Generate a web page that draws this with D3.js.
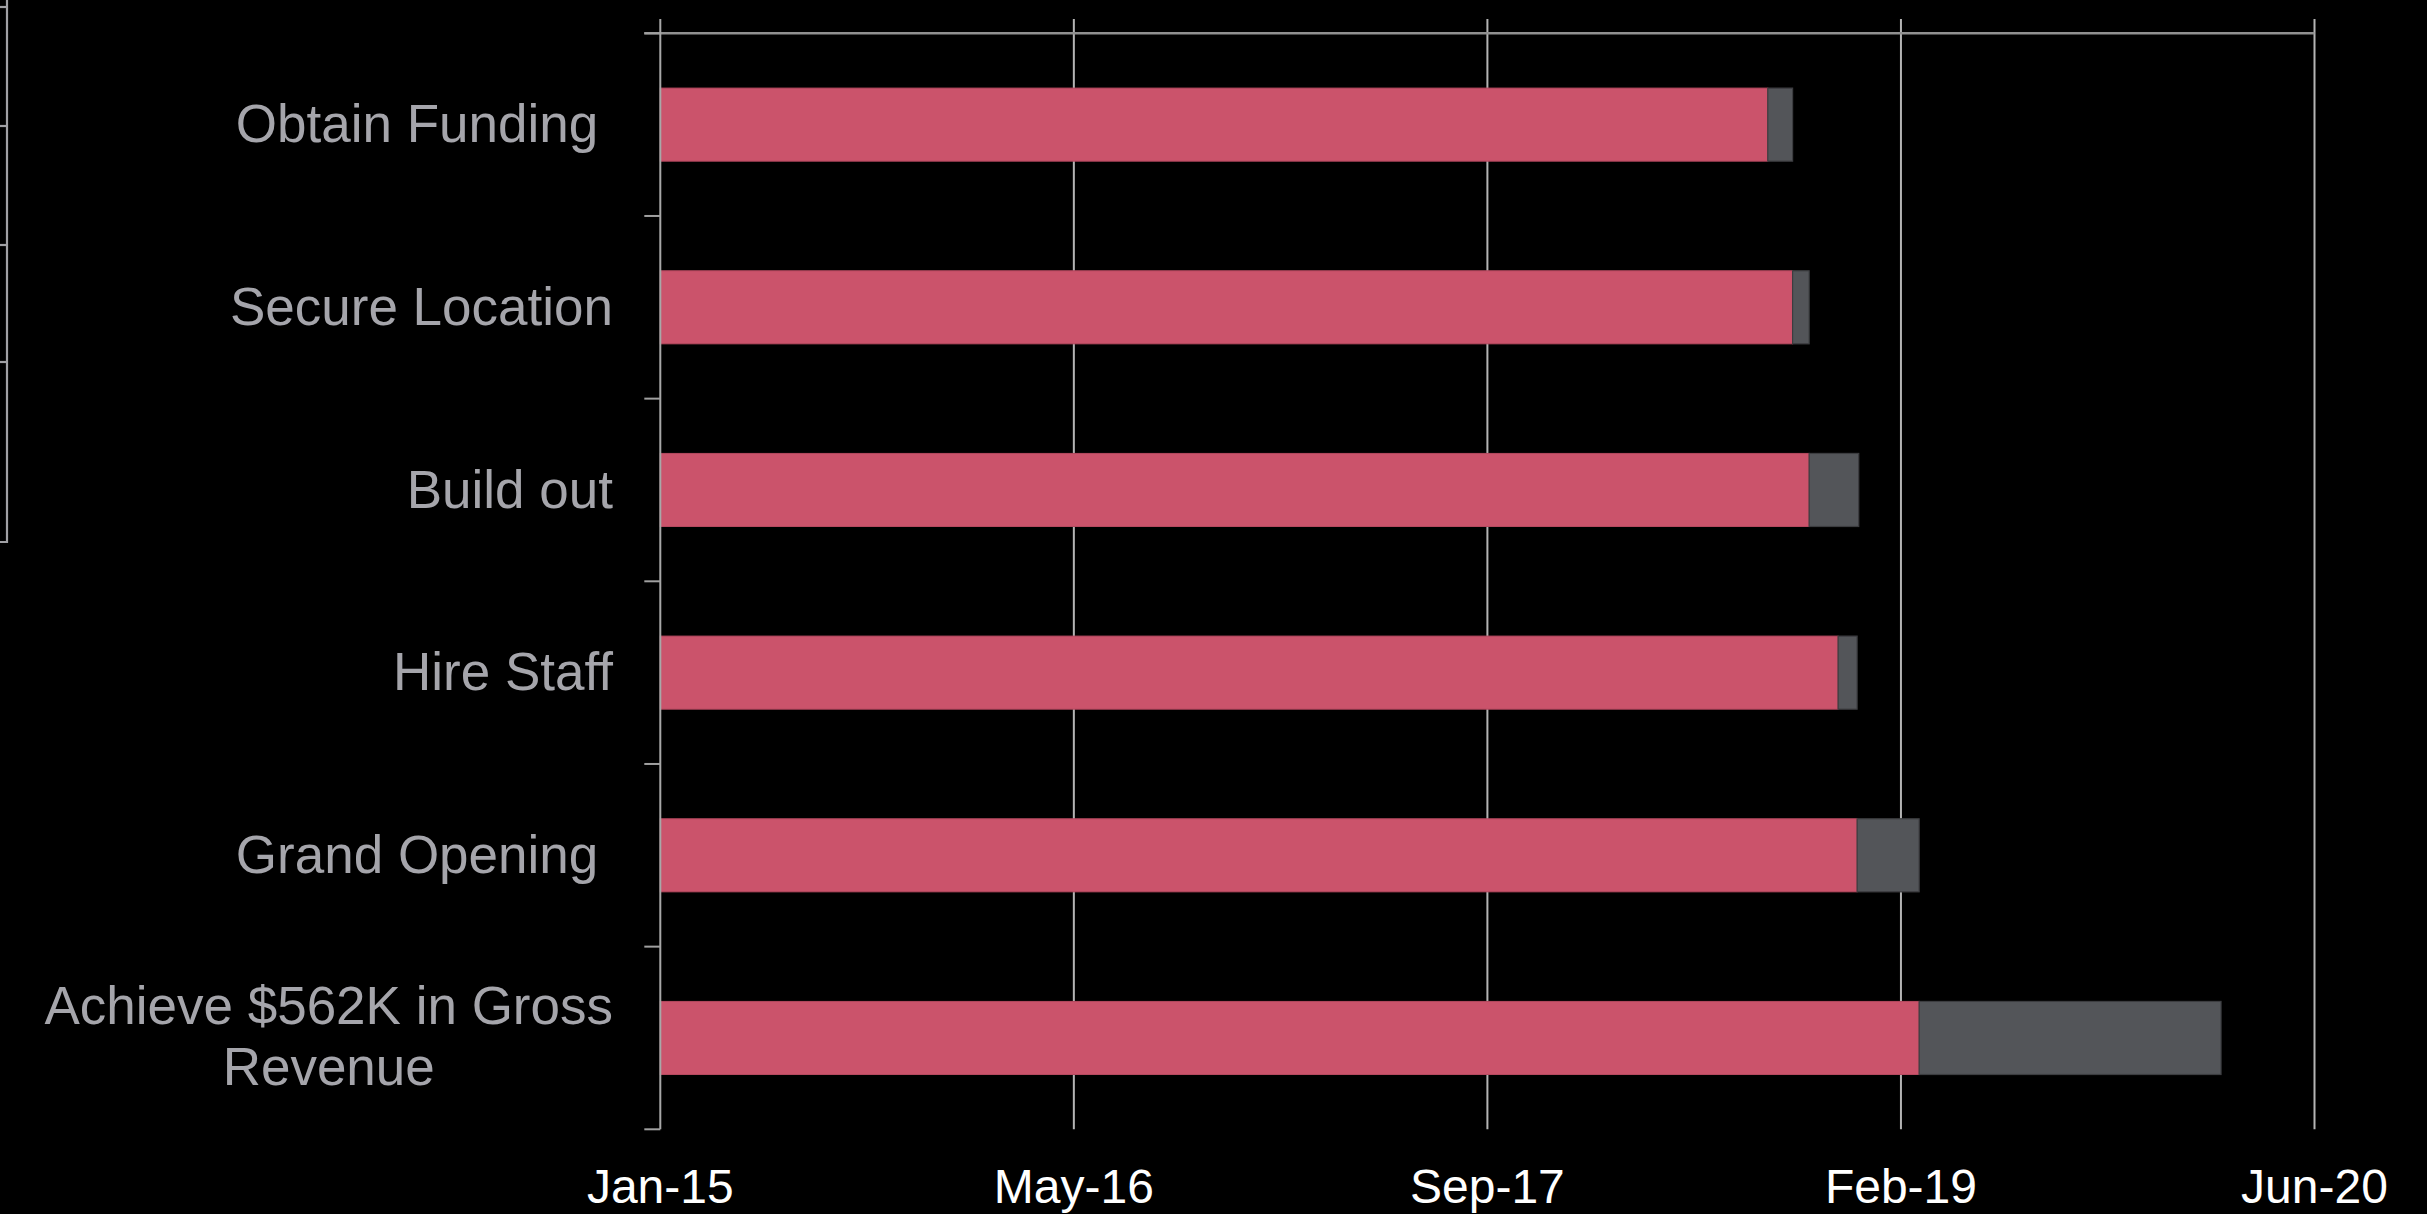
<!DOCTYPE html>
<html>
<head>
<meta charset="utf-8">
<script src="https://cdn.jsdelivr.net/npm/d3@7/dist/d3.min.js"></script>
<style>
  html, body { margin: 0; padding: 0; background: #000; }
  svg { display: block; }
  text { font-family: Arial, "Liberation Sans", sans-serif; }
</style>
</head>
<body>
<svg id="chart" width="2427" height="1214"></svg>
<script>
// ---- data ----
const categories = [
  "Obtain Funding ",
  "Secure Location",
  "Build out",
  "Hire Staff",
  "Grand Opening ",
  "Achieve $562K in Gross\nRevenue"
];
// start dates as spreadsheet serial days (pink segment runs from axis minimum)
const startDates = [43344, 43374, 43394, 43429, 43452, 43527];
// task durations in days (gray segment)
const durations = [30, 20, 60, 23, 75, 365];
const tickValues = [42005, 42505, 43005, 43505, 44005];
const tickLabels = ["Jan-15", "May-16", "Sep-17", "Feb-19", "Jun-20"];

// ---- layout ----
const svg = d3.select("#chart");
const W = 2427, H = 1214;
svg.append("rect").attr("width", W).attr("height", H).attr("fill", "#000");

const plotLeft = 660.3, plotRight = 2314.5, plotTop = 33.3, plotBottom = 1129.3;

const x = d3.scaleLinear().domain([tickValues[0], tickValues[tickValues.length - 1]])
  .range([plotLeft, plotRight]);
const y = d3.scaleBand().domain(categories).range([plotTop, plotBottom])
  .paddingInner(0.6).paddingOuter(0.3);

const rows = categories.map((c, i) => ({ cat: c, start: startDates[i], dur: durations[i] }));

// decorative fragment of a neighbouring chart at the far left
const frag = svg.append("g").attr("stroke", "#A0A0A4").attr("stroke-width", 2.2).attr("fill", "none");
frag.append("path").attr("d", "M7,0 V542 H0");
[7, 126, 245, 362].forEach(t => frag.append("line").attr("x1", 0).attr("x2", 7).attr("y1", t).attr("y2", t));

// vertical gridlines (with tick marks extending above the top axis line)
const grid = svg.append("g");
grid.selectAll("line").data(tickValues.slice(1)).join("line")
  .attr("x1", d => x(d)).attr("x2", d => x(d))
  .attr("y1", 19).attr("y2", plotBottom)
  .attr("stroke", "#B4B4B4").attr("stroke-width", 2);

// bars
const barG = svg.append("g");
barG.selectAll("rect.start").data(rows).join("rect").attr("class", "start")
  .attr("x", x(tickValues[0]))
  .attr("y", d => y(d.cat))
  .attr("width", d => x(d.start) - x(tickValues[0]))
  .attr("height", y.bandwidth())
  .attr("fill", "#CB536B")
  .attr("stroke", "#B5495F").attr("stroke-width", 1);
barG.selectAll("rect.dur").data(rows).join("rect").attr("class", "dur")
  .attr("x", d => x(d.start))
  .attr("y", d => y(d.cat))
  .attr("width", d => x(d.start + d.dur) - x(d.start))
  .attr("height", y.bandwidth())
  .attr("fill", "#535559")
  .attr("stroke", "#3C3D40").attr("stroke-width", 1.2);

// top horizontal axis line
svg.append("line")
  .attr("x1", plotLeft - 16).attr("x2", plotRight)
  .attr("y1", plotTop).attr("y2", plotTop)
  .attr("stroke", "#909090").attr("stroke-width", 2.4);
// vertical category axis line
svg.append("line")
  .attr("x1", plotLeft).attr("x2", plotLeft).attr("y1", 19).attr("y2", plotBottom)
  .attr("stroke", "#A8A8A8").attr("stroke-width", 2);

// category axis ticks at band boundaries
const step = y.step();
const bounds = d3.range(categories.length + 1).map(i => plotTop + i * step);
svg.append("g").selectAll("line").data(bounds).join("line")
  .attr("x1", plotLeft - 16).attr("x2", plotLeft)
  .attr("y1", d => d).attr("y2", d => d)
  .attr("stroke", "#A0A0A0").attr("stroke-width", 2);

// x tick labels
svg.append("g").selectAll("text").data(tickValues).join("text")
  .attr("x", d => x(d)).attr("y", 1202.7)
  .attr("text-anchor", "middle")
  .attr("font-size", 48)
  .attr("fill", "#FFFFFF")
  .text((d, i) => tickLabels[i]);

// category labels
const labelRight = 613;
const labG = svg.append("g");
rows.forEach(r => {
  const lines = r.cat.split("\n");
  const cy = y(r.cat) + y.bandwidth() / 2;
  const t = labG.append("text")
    .attr("font-size", 53)
    .attr("fill", "#A5A5AB")
    .attr("xml:space", "preserve")
    .style("white-space", "pre");
  if (lines.length === 1) {
    t.attr("x", labelRight).attr("y", cy + 17.7).attr("text-anchor", "end").text(lines[0]);
  } else {
    t.attr("text-anchor", "middle");
    const spans = lines.map((ln, k) => t.append("tspan").text(ln));
    let maxW = 0;
    spans.forEach(s => { maxW = Math.max(maxW, s.node().getComputedTextLength()); });
    const cx = labelRight - maxW / 2;
    spans.forEach((s, k) => s.attr("x", cx).attr("y", cy - 14 + k * 61));
  }
});
</script>
</body>
</html>
